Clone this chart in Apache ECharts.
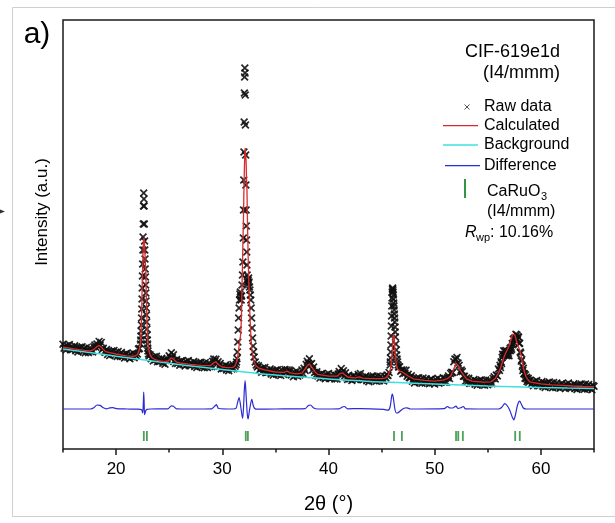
<!DOCTYPE html>
<html>
<head>
<meta charset="utf-8">
<script src="https://cdn.jsdelivr.net/npm/echarts/dist/echarts.min.js"></script>
<style>
  html, body { margin: 0; padding: 0; background: #ffffff; }
  #chart { width: 615px; height: 523px; }
</style>
</head>
<body>
<div id="chart"></div>
<script>
// ---- 2θ axis ----
const twoThetaMin = 15;
const twoThetaMax = 65;
const majorTickValues = [20, 30, 40, 50, 60];
const minorTickValues = [15, 25, 35, 45, 55, 65];
const intensityMax = 4290;

// ---- observed pattern: regular scan runs (start 2θ, step, counts) ----
const rawRun1 = [ // 15.0 – 22.2, step 0.1
  1047,1008,1027,993,1036,1009,1045,993,1022,998,
  1003,1032,983,1015,971,1008,1018,982,1023,975,
  1005,963,1014,979,964,1008,974,996,970,1023,
  1040,1017,1050,1028,1076,1040,1066,996,1008,972,
  967,996,946,978,934,970,980,944,984,936,
  967,925,976,940,924,966,928,944,910,952,
  955,917,936,903,948,922,961,913,946,930,
  950,1000,1005
];
const rawRun2 = [ // 23.2 – 31.2, step 0.1
  942,902,918,881,923,892,927,873,900,875,
  880,908,858,890,848,886,900,874,933,912,
  963,915,943,884,856,894,856,872,838,880,
  883,845,864,831,875,848,885,834,863,840,
  845,875,826,858,815,851,862,827,868,821,
  853,812,864,829,814,858,824,846,822,878,
  900,875,898,853,873,827,856,800,828,804,
  810,840,791,824,782,820,833,800,844,802,
  827
];
const rawRun3 = [ // 33.4 – 45.7, step 0.1
  832,788,805,768,811,780,816,763,791,767,
  772,801,751,783,740,776,787,751,792,745,
  777,736,789,755,745,796,768,791,756,790,
  782,739,757,723,767,741,778,728,759,740,
  751,791,756,807,785,846,878,858,903,844,
  855,790,820,766,738,772,730,744,709,751,
  754,716,735,702,746,719,756,705,734,711,
  717,748,700,736,700,750,775,754,804,760,
  783,727,763,716,696,738,701,718,685,729,
  733,697,719,693,745,722,754,694,718,694,
  700,731,682,716,673,711,723,689,730,684,
  717,677,730,696,682,726,691,710,680,728,
  711,740,735,765
];
const rawRun4 = [ // 46.7 – 51.5, step 0.1
  822,778,791,752,790,757,788,728,748,715,
  712,733,678,706,660,696,707,672,713,666,
  698,657,709,674,660,703,667,684,652,695,
  699,661,681,649,694,668,707,658,689,669,
  678,712,667,705,668,712,731,704,756
];
const rawRun5 = [ // 51.6 – 56.0, step 0.1
  767,765,873,899,898,916,860,838,769,790,
  774,727,727,678,710,674,707,655,683,660,
  666,696,647,680,637,674,685,650,691,645,
  677,637,690,656,643,688,655,678,653,706,
  722,701,740,731,800
];
const rawRun6 = [ // 56.10 – 58.90, step 0.05
  785,838,814,872,856,916,948,931,983,944,
  977,937,986,949,932,974,938,958,932,986,
  1007,985,1017,997,1054,1042,1098,1065,1108,1096,
  1111,1148,1104,1139,1094,1123,1118,1054,1058,970,
  960,879,894,828,786,808,752,753,708,741,
  705,718,675,695,708,668,686
];
const rawRun7 = [ // 59.0 – 65.0, step 0.1
  688,649,667,633,676,648,685,633,662,638,
  644,674,625,658,615,652,663,628,669,622,
  654,613,665,631,616,659,623,640,607,651,
  654,617,636,604,648,622,659,609,638,616,
  622,653,604,638,595,633,644,610,651,605,
  637,597,649,615,600,644,607,625,592,636,
  627
];
const rawRunStarts = [15.0, 23.2, 33.4, 46.7, 51.6, 56.1, 59.0];
const rawRunSteps  = [0.1, 0.1, 0.1, 0.1, 0.1, 0.05, 0.1];

// ---- observed pattern: fine scans across the sharp reflections [2θ, counts] ----
const rawPeak1 = [
  [22.30,1050],[22.32,1090],[22.34,1130],[22.36,1180],[22.38,1240],[22.40,1310],[22.42,1400],
  [22.44,1500],[22.46,1610],[22.48,1730],[22.50,1850],[22.52,1990],[22.54,2120],[22.56,2250],
  [22.58,2430],[22.60,2560],[22.62,2500],[22.64,2430],[22.66,2250],[22.68,2080],[22.70,1990],
  [22.72,1900],[22.74,1800],[22.76,1720],[22.78,1640],[22.80,1560],[22.82,1480],[22.84,1410],
  [22.86,1340],[22.88,1270],[22.90,1200],[22.92,1140],[22.94,1090],[22.96,1050],[22.98,1010],
  [23.00,980],[23.05,950],[23.10,930]
];
const rawPeak2 = [
  [31.30,845],[31.34,870],[31.38,905],[31.42,970],[31.46,1070],[31.50,1190],[31.54,1310],
  [31.58,1410],[31.62,1490],[31.66,1550],[31.70,1570],[31.74,1530],[31.78,1490],[31.82,1530],
  [31.86,1640],[31.90,1740],[31.94,1870],[31.98,2110],[32.00,2390],[32.02,2690],[32.04,2970],
  [32.06,3270],[32.08,3560],[32.10,3720],[32.12,3810],[32.14,3760],[32.16,3540],[32.18,3240],
  [32.20,2940],[32.22,2640],[32.24,2390],[32.26,2230],[32.28,2090],[32.30,1970],[32.32,1840],
  [32.34,1740],[32.36,1670],[32.40,1650],[32.44,1690],[32.48,1710],[32.52,1670],[32.56,1620],
  [32.60,1590],[32.64,1540],[32.68,1490],[32.72,1410],[32.76,1310],[32.80,1210],[32.85,1110],
  [32.90,1030],[32.95,970],[33.00,920],[33.10,870],[33.20,840],[33.30,820]
];
const rawPeak3 = [
  [45.80,840],[45.82,870],[45.84,910],[45.86,970],[45.88,1040],[45.90,1130],[45.92,1230],
  [45.94,1330],[45.96,1430],[45.98,1510],[46.00,1570],[46.02,1600],[46.04,1610],[46.06,1590],
  [46.08,1570],[46.10,1540],[46.12,1500],[46.14,1460],[46.16,1430],[46.18,1390],[46.20,1350],
  [46.22,1310],[46.24,1270],[46.26,1220],[46.28,1170],[46.30,1120],[46.34,1050],[46.38,990],
  [46.42,940],[46.46,900],[46.50,870],[46.55,840],[46.60,820]
];

// ---- refined model ----
const calculatedCurve = [
  [15.0,1018],[15.5,1010],[16.0,1002],[16.5,994],[17.0,986],[17.5,980],[17.8,988],[18.0,1004],
  [18.2,1025],[18.4,1036],[18.6,1020],[18.8,994],[19.0,974],[19.5,962],[20.0,950],[20.5,940],
  [21.0,931],[21.5,926],[21.8,930],[22.0,945],[22.1,968],[22.2,1000],[22.3,1055],[22.36,1180],
  [22.42,1440],[22.46,1650],[22.5,1830],[22.55,2000],[22.6,2110],[22.63,2120],[22.66,2080],
  [22.7,1990],[22.75,1870],[22.8,1790],[22.83,1620],[22.86,1460],[22.9,1300],[22.95,1160],
  [23.0,1060],[23.1,980],[23.2,940],[23.4,910],[23.7,893],[24.0,884],[24.5,874],[24.9,880],
  [25.2,912],[25.4,898],[25.7,868],[26.0,860],[27.0,847],[28.0,836],[28.9,834],[29.2,862],
  [29.4,874],[29.6,845],[30.0,820],[30.5,813],[31.0,816],[31.2,830],[31.3,850],[31.4,890],
  [31.5,960],[31.6,1050],[31.7,1120],[31.75,1180],[31.8,1320],[31.85,1600],[31.9,1850],
  [31.95,2100],[32.0,2350],[32.04,2610],[32.08,2800],[32.12,2950],[32.16,3010],[32.2,2990],
  [32.24,2880],[32.28,2700],[32.32,2600],[32.36,2350],[32.4,2100],[32.45,1850],[32.51,1610],
  [32.58,1400],[32.65,1220],[32.7,1110],[32.8,980],[32.9,910],[33.0,870],[33.2,830],[33.5,805],
  [34.0,792],[35.0,770],[35.8,766],[36.1,778],[36.4,762],[37.0,752],[37.5,758],[37.8,800],
  [38.0,835],[38.2,850],[38.4,825],[38.7,772],[39.0,746],[40.0,728],[40.8,728],[41.1,755],
  [41.3,762],[41.5,745],[41.8,720],[42.5,712],[42.9,722],[43.2,708],[44.0,703],[45.0,703],
  [45.4,712],[45.6,735],[45.8,790],[45.9,840],[46.0,960],[46.05,1060],[46.1,1150],[46.13,1170],
  [46.18,1120],[46.25,1000],[46.3,920],[46.4,840],[46.5,800],[46.7,778],[46.9,772],[47.2,752],
  [47.5,730],[48.0,702],[49.0,686],[50.0,679],[50.8,688],[51.2,705],[51.5,730],[51.7,775],
  [51.9,830],[52.0,857],[52.1,850],[52.2,835],[52.4,790],[52.6,756],[52.8,728],[53.0,702],
  [53.5,679],[54.5,668],[55.3,672],[55.7,705],[56.0,760],[56.2,810],[56.4,880],[56.6,940],
  [56.8,985],[57.0,1030],[57.2,1100],[57.35,1150],[57.45,1160],[57.55,1140],[57.7,1080],
  [57.85,1030],[58.0,990],[58.1,950],[58.2,900],[58.3,840],[58.45,770],[58.6,722],[58.8,690],
  [59.0,668],[60.0,652],[61.0,642],[62.0,636],[63.0,630],[64.0,625],[65.0,621]
];
const backgroundCurve = [
  [15,1000],[17.5,965],[20,928],[22.5,893],[25,858],[27.5,825],[30,795],[32.5,766],[35,740],
  [37.5,720],[40,700],[42.5,685],[45,670],[47.5,660],[50,650],[52.5,640],[55,630],[57.5,622],
  [60,615],[62.5,610],[65,605]
];
// observed − calculated, shown with its own offset below the pattern
const differenceCurve = [
  [15.0,400],[17.6,400],[17.9,412],[18.2,440],[18.5,436],[18.8,412],[19.1,402],[19.4,412],
  [19.7,414],[20.0,404],[21.0,400],[22.0,398],[22.4,392],[22.5,362],[22.55,420],[22.6,568],
  [22.64,470],[22.68,343],[22.78,380],[22.9,396],[23.2,400],[24.9,402],[25.2,432],[25.4,428],
  [25.7,402],[27.0,400],[29.0,402],[29.3,430],[29.45,443],[29.65,405],[31.0,400],[31.3,408],
  [31.45,470],[31.58,515],[31.7,450],[31.85,340],[31.92,307],[32.0,420],[32.08,600],[32.15,683],
  [32.25,520],[32.35,350],[32.43,300],[32.55,380],[32.7,470],[32.78,497],[32.9,440],[33.05,405],
  [33.3,398],[35.0,400],[37.8,404],[38.1,436],[38.3,440],[38.6,410],[39.0,400],[41.0,402],
  [41.3,420],[41.5,425],[41.8,402],[43.0,404],[45.2,396],[45.6,388],[45.8,420],[45.95,530],
  [46.02,550],[46.12,500],[46.25,400],[46.4,360],[46.55,362],[46.75,380],[46.95,398],[47.2,410],
  [47.4,412],[47.7,400],[50.9,404],[51.2,425],[51.4,412],[51.7,410],[52.0,428],[52.2,405],
  [52.45,412],[52.7,425],[52.9,402],[56.0,400],[56.3,415],[56.6,454],[56.85,430],[57.1,380],
  [57.3,320],[57.45,292],[57.6,340],[57.8,440],[58.0,479],[58.15,450],[58.35,410],[58.6,400],
  [65.0,400]
];

// ---- CaRuO3 (I4/mmm) reflection positions ----
const reflectionPositions = [22.61, 22.90, 32.21, 32.41, 46.17, 46.91, 52.01, 52.22, 52.65, 57.58, 58.01];
const reflectionRowLevel = 130;

// ---- assemble series data ----
const rawRuns = [rawRun1, rawRun2, rawRun3, rawRun4, rawRun5, rawRun6, rawRun7];
const observedPoints = [];
rawRuns.forEach((run, k) => {
  run.forEach((c, i) => {
    const tt = Math.round((rawRunStarts[k] + i * rawRunSteps[k]) * 100) / 100;
    observedPoints.push([tt, c]);
  });
});
[rawPeak1, rawPeak2, rawPeak3].forEach(p => p.forEach(pt => observedPoints.push(pt)));
const reflectionPoints = reflectionPositions.map(p => [p, reflectionRowLevel]);

const FONT = "'Liberation Sans', Arial, Helvetica, sans-serif";
const CROSS = 'path://M0,1.5L1.5,0L5,3.5L8.5,0L10,1.5L6.5,5L10,8.5L8.5,10L5,6.5L1.5,10L0,8.5L3.5,5Z';
const RED = '#d92b2b', CYAN = '#3fe0e0', BLUE = '#2a2ad6', GREEN = '#1f8a30';

const chart = echarts.init(document.getElementById('chart'), null, { renderer: 'canvas' });

function label(x, y, text, size, opts) {
  return Object.assign({
    type: 'text', x: x, y: y, z: 100,
    style: Object.assign({
      text: text, fill: '#000', fontSize: size, fontFamily: FONT,
      align: 'left', verticalAlign: 'middle', textAlign: 'left', textVerticalAlign: 'middle'
    }, (opts && opts.style) || {})
  }, (opts && opts.el) || {});
}
function seg(x1, y1, x2, y2, color, w) {
  return { type: 'line', z: 100, shape: { x1: x1, y1: y1, x2: x2, y2: y2 },
           style: { stroke: color, lineWidth: w } };
}

const option = {
  animation: false,
  backgroundColor: '#ffffff',
  grid: { left: 63, right: 21, top: 20, bottom: 74, show: true,
          borderColor: '#1a1a1a', borderWidth: 1.5, backgroundColor: 'transparent' },
  xAxis: [{
    type: 'value', min: twoThetaMin, max: twoThetaMax, position: 'bottom',
    name: '2θ (°)', nameLocation: 'middle', nameGap: 45,
    nameTextStyle: { fontSize: 20, fontFamily: FONT, color: '#000' },
    axisLine: { show: false },
    axisTick: { show: true, customValues: majorTickValues, length: 6, lineStyle: { color: '#1a1a1a', width: 1.5 } },
    axisLabel: { show: true, customValues: majorTickValues, fontSize: 17, fontFamily: FONT, color: '#000', margin: 12 },
    splitLine: { show: false }
  }, {
    type: 'value', min: twoThetaMin, max: twoThetaMax, position: 'bottom', offset: 0,
    axisLine: { show: false },
    axisTick: { show: true, customValues: minorTickValues, length: 3.5, lineStyle: { color: '#1a1a1a', width: 1.5 } },
    axisLabel: { show: false },
    splitLine: { show: false }
  }],
  yAxis: { type: 'value', min: 0, max: intensityMax, show: false },
  series: [
    { name: 'Raw data', type: 'scatter', data: observedPoints, symbol: CROSS, symbolSize: 8,
      itemStyle: { color: '#111111', opacity: 0.9 }, silent: true },
    { name: 'Background', type: 'line', data: backgroundCurve, smooth: true, showSymbol: false,
      lineStyle: { color: CYAN, width: 1.5 }, silent: true },
    { name: 'Calculated', type: 'line', data: calculatedCurve, showSymbol: false,
      lineStyle: { color: RED, width: 1.3 }, silent: true },
    { name: 'Difference', type: 'line', data: differenceCurve, smooth: 0.25, showSymbol: false,
      lineStyle: { color: BLUE, width: 1.2 }, silent: true },
    { name: 'CaRuO3', type: 'scatter', data: reflectionPoints, symbol: 'rect', symbolSize: [1.8, 10],
      itemStyle: { color: GREEN }, silent: true }
  ],
  graphic: [
    // page frame
    seg(12.5, 7.5, 615, 7.5, '#cfcfcf', 1),
    seg(12.5, 7.5, 12.5, 516.5, '#cfcfcf', 1),
    seg(12.5, 516.5, 615, 516.5, '#cfcfcf', 1),
    { type: 'polygon', z: 100, shape: { points: [[0, 209.5], [5, 211.5], [0, 213.5]] }, style: { fill: '#333' } },
    // panel letter and y title
    label(37, 35, 'a)', 30, { style: { align: 'center', textAlign: 'center' } }),
    label(42, 212, 'Intensity (a.u.)', 17, { style: { align: 'center', textAlign: 'center' }, el: { rotation: Math.PI / 2 } }),
    // key
    label(512.5, 52, 'CIF-619e1d', 18, { style: { align: 'center', textAlign: 'center' } }),
    label(521.5, 73, '(I4/mmm)', 18, { style: { align: 'center', textAlign: 'center' } }),
    seg(464.5, 104.5, 469.5, 109.5, '#555', 1),
    seg(469.5, 104.5, 464.5, 109.5, '#555', 1),
    label(484, 107, 'Raw data', 16),
    seg(443, 125.7, 478, 125.7, RED, 1.3),
    label(484, 126, 'Calculated', 16),
    seg(443, 145, 478, 145, CYAN, 1.5),
    label(484, 145, 'Background', 16),
    seg(445, 165.7, 480, 165.7, BLUE, 1.3),
    label(484, 166, 'Difference', 16),
    seg(465, 179, 465, 198, GREEN, 1.8),
    label(487, 192, 'CaRuO', 16),
    label(541, 197, '3', 11),
    label(487, 212, '(I4/mmm)', 16),
    label(465, 233, 'R', 16, { style: { fontStyle: 'italic' } }),
    label(476, 238, 'wp', 11),
    label(490, 233, ': 10.16%', 16)
  ]
};
chart.setOption(option);
</script>
</body>
</html>
